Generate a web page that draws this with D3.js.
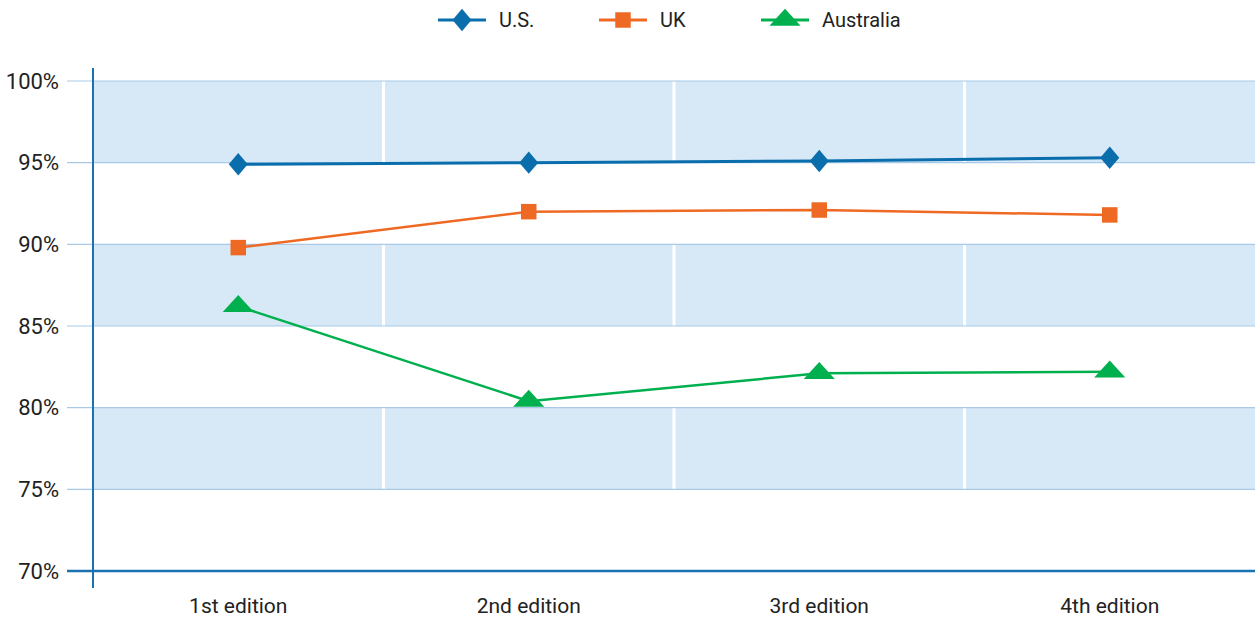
<!DOCTYPE html>
<html lang="en">
<head>
    <title>Editions line chart</title>
    <style>
        body { margin: 0; background: #fff; }
        svg { display: block; }
        text { font-family: "Roboto", "Liberation Sans", sans-serif; fill: #222; }
        .axis path, .axis line { display: none; }
    </style>
    <script src="https://d3js.org/d3.v7.min.js"></script>
</head>
<body>
<svg></svg>
<script>
    const width = 1255;
    const height = 621;

    const editions = ['1st edition', '2nd edition', '3rd edition', '4th edition'];
    const usValues = [94.9, 95.0, 95.1, 95.3];
    const ukValues = [89.8, 92.0, 92.1, 91.8];
    const auValues = [86.2, 80.4, 82.1, 82.2];
    const seriesNames = ['U.S.', 'UK', 'Australia'];
    const yTicks = [70, 75, 80, 85, 90, 95, 100];

    const series = [
        {name: seriesNames[0], values: usValues, color: '#0a6ead', shape: d3.symbolDiamond, size: 200, width: 3},
        {name: seriesNames[1], values: ukValues, color: '#ee6a24', shape: d3.symbolSquare, size: 240, width: 2.5},
        {name: seriesNames[2], values: auValues, color: '#00b04f', shape: d3.symbolTriangle, size: 230, width: 2.5}
    ];

    const plotLeft = 93, plotRight = 1255, plotTop = 81, plotBottom = 571;

    const svg = d3.select('svg').attr('width', width).attr('height', height);

    const x = d3.scaleBand().domain(editions).range([plotLeft, plotRight]);
    const y = d3.scaleLinear().domain([70, 100]).range([plotBottom, plotTop]);

    // shaded bands
    const bands = [[95, 100], [85, 90], [75, 80]];
    svg.append('g').selectAll('rect')
        .data(bands)
        .enter().append('rect')
        .attr('x', plotLeft)
        .attr('width', plotRight - plotLeft)
        .attr('y', d => y(d[1]))
        .attr('height', d => y(d[0]) - y(d[1]))
        .attr('fill', '#d7e8f7');

    // white column dividers
    svg.append('g').selectAll('line')
        .data(editions.slice(1))
        .enter().append('line')
        .attr('x1', d => x(d)).attr('x2', d => x(d))
        .attr('y1', y(100)).attr('y2', y(75))
        .attr('stroke', '#fff')
        .attr('stroke-width', 3);

    // gridlines
    svg.append('g').selectAll('line')
        .data(yTicks.slice(1))
        .enter().append('line')
        .attr('x1', 67).attr('x2', plotRight)
        .attr('y1', d => y(d)).attr('y2', d => y(d))
        .attr('stroke', '#a8c9e8')
        .attr('stroke-width', 1.2);

    // y labels
    svg.append('g')
        .attr('class', 'axis')
        .attr('transform', 'translate(67,0)')
        .call(d3.axisLeft(y).tickValues(yTicks).tickSize(0).tickPadding(8).tickFormat(d => d + '%'))
        .call(g => g.selectAll('text').style('font-size', '22px').attr('fill', '#222'));

    // x labels
    svg.append('g')
        .attr('class', 'axis')
        .attr('transform', `translate(0,${plotBottom})`)
        .call(d3.axisBottom(x).tickSize(0).tickPadding(27))
        .call(g => g.selectAll('text').style('font-size', '21px').attr('fill', '#222'));

    // axes lines
    svg.append('line')
        .attr('x1', 67).attr('x2', plotRight)
        .attr('y1', plotBottom).attr('y2', plotBottom)
        .attr('stroke', '#1a72b0').attr('stroke-width', 2.5);
    svg.append('line')
        .attr('x1', plotLeft).attr('x2', plotLeft)
        .attr('y1', 68).attr('y2', 588)
        .attr('stroke', '#1a72b0').attr('stroke-width', 2);

    const line = d3.line()
        .x((d, i) => x(editions[i]) + x.bandwidth() / 2)
        .y(d => y(d));

    function shapeScale(shape) {
        if (shape === d3.symbolDiamond) return 'scale(1.25,0.85)';
        if (shape === d3.symbolTriangle) return 'scale(1.35,0.85)';
        return '';
    }

    series.forEach(s => {
        svg.append('path')
            .datum(s.values)
            .attr('d', line)
            .attr('fill', 'none')
            .attr('stroke', s.color)
            .attr('stroke-width', s.width);

        svg.append('g').selectAll('path')
            .data(s.values)
            .enter().append('path')
            .attr('d', d3.symbol().type(s.shape).size(s.size))
            .attr('transform', (d, i) => `translate(${x(editions[i]) + x.bandwidth() / 2},${y(d)}) ${shapeScale(s.shape)}`)
            .attr('fill', s.color);
    });

    // legend
    const legendX = [438, 599, 761];
    const legend = svg.append('g');
    series.forEach((s, i) => {
        const g = legend.append('g').attr('transform', `translate(${legendX[i]},20)`);
        g.append('line')
            .attr('x1', 0).attr('x2', 48)
            .attr('stroke', s.color).attr('stroke-width', 3);
        g.append('path')
            .attr('d', d3.symbol().type(s.shape).size(s.size))
            .attr('transform', `translate(24,0) ${shapeScale(s.shape)}`)
            .attr('fill', s.color);
        g.append('text')
            .attr('x', 61)
            .attr('dy', '0.35em')
            .style('font-size', '20px')
            .text(s.name);
    });
</script>
</body>
</html>
